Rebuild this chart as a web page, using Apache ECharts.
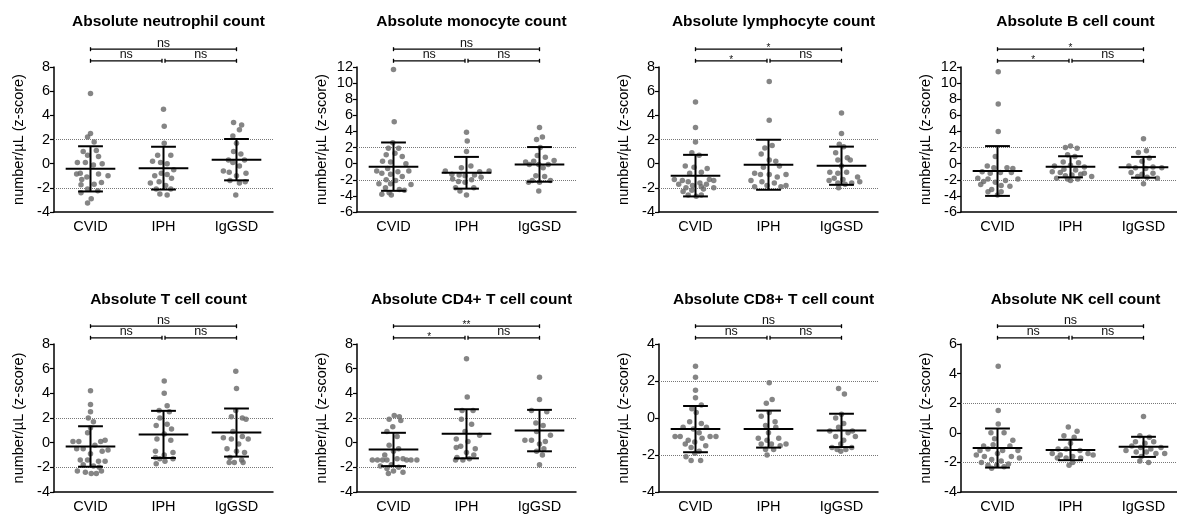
<!DOCTYPE html>
<html>
<head>
<meta charset="utf-8">
<script src="https://cdn.jsdelivr.net/npm/echarts@6/dist/echarts.min.js"></script>
<style>
html, body { margin: 0; padding: 0; background: #fff; }
#chart { width: 1177px; height: 514px; }
</style>
</head>
<body>
<div id="chart"></div>
<script>
const groups = ['CVID', 'IPH', 'IgGSD']
const titles = ['Absolute neutrophil count', 'Absolute monocyte count', 'Absolute lymphocyte count', 'Absolute B cell count',
  'Absolute T cell count', 'Absolute CD4+ T cell count', 'Absolute CD8+ T cell count', 'Absolute NK cell count']
const yMin = [-4, -6, -4, -6, -4, -4, -4, -4]
const yMax = [8, 12, 8, 12, 8, 8, 4, 6]

// mean and SD per group (CVID, IPH, IgGSD)
const means = [[-0.43, -0.37, 0.33], [-0.37, -1.13, -0.09], [-0.99, -0.09, -0.17], [-0.91, -0.39, -0.45],
  [-0.31, 0.67, 0.82], [-0.55, 0.72, 0.98], [-0.6, -0.6, -0.67], [-1.03, -1.16, -0.95]]
const sds = [[1.87, 1.77, 1.71], [3.0, 1.97, 2.15], [1.72, 2.07, 1.58], [3.09, 1.31, 1.29],
  [1.64, 1.91, 1.95], [1.35, 1.99, 1.68], [1.25, 1.0, 0.9], [1.32, 0.69, 0.68]]

// comparisons: [from, to, level]
const sigPairs = [[0, 1, 0], [1, 2, 0], [0, 2, 1]]
const sigLabels = [['ns', 'ns', 'ns'], ['ns', 'ns', 'ns'], ['*', 'ns', '*'], ['*', 'ns', '*'],
  ['ns', 'ns', 'ns'], ['*', 'ns', '**'], ['ns', 'ns', 'ns'], ['ns', 'ns', 'ns']]

// points per group as [x offset from group centre, z-score]
const neutrophil = [
  [[0, 5.8], [0, 2.5], [-0.04, 2.2], [0.05, 1.8], [-0.1, 1.0], [0.08, 1.1], [-0.04, 0.7], [0.11, 0.6], [-0.18, 0.1], [-0.07, 0.1],
    [0.16, 0.0], [0.04, -0.1], [-0.14, -0.8], [-0.19, -0.85], [0.11, -0.85], [0.24, -1.0], [-0.05, -1.1], [-0.12, -1.3], [0.15, -1.55],
    [0.05, -1.7], [-0.13, -1.75], [-0.04, -2.1], [0.1, -2.25], [-0.13, -2.4], [0.01, -2.9], [-0.04, -3.25]],
  [[0, 4.5], [0.01, 3.1], [0.01, 1.7], [-0.08, 0.7], [0.1, 0.7], [-0.15, 0.2], [-0.04, 0.1], [0.05, 0.0], [0.14, -0.5], [-0.03, -0.8],
    [0.05, -0.9], [-0.12, -1.0], [0.11, -1.2], [-0.06, -1.5], [-0.18, -1.6], [0.03, -1.8], [-0.1, -2.1], [0.1, -2.1], [-0.05, -2.5], [0.05, -2.6]],
  [[-0.04, 3.4], [0.07, 3.2], [0.04, 2.8], [-0.05, 2.3], [0, 1.7], [-0.04, 1.0], [0.06, 0.8], [-0.11, 0.3], [0.11, 0.3], [-0.05, 0.1],
    [0.04, -0.2], [-0.18, -0.6], [-0.1, -0.7], [0.13, -0.8], [0, -1.0], [-0.09, -1.4], [0.12, -1.5], [0.04, -1.6], [-0.01, -2.6]]
]
const monocyte = [
  [[0, 11.7], [0.01, 5.2], [-0.01, 2.6], [-0.07, 1.9], [0.07, 1.9], [0.02, 1.3], [-0.1, 1.1], [0.12, 0.9], [-0.15, 0.3], [-0.04, 0.2],
    [0.17, 0.0], [-0.08, -0.6], [-0.23, -0.9], [0.21, -0.9], [0.06, -1.0], [-0.16, -1.2], [-0.04, -1.3], [0.12, -1.6], [-0.1, -2.0],
    [0.03, -2.1], [-0.2, -2.5], [0.24, -2.6], [-0.04, -2.5], [-0.11, -3.0], [0.08, -3.2], [0.15, -3.3], [-0.06, -3.6], [-0.16, -3.8], [-0.03, -3.9]],
  [[0, 3.9], [0.01, 2.8], [0, 1.5], [0.06, -0.3], [-0.07, -0.5], [-0.29, -0.9], [0.18, -1.0], [0.31, -0.9], [-0.2, -1.3], [-0.1, -1.4],
    [-0.02, -1.5], [0.11, -1.4], [0.2, -1.7], [-0.19, -1.9], [0.07, -2.0], [-0.11, -2.2], [-0.02, -2.3], [-0.15, -3.0], [0.1, -3.0],
    [-0.09, -3.4], [0, -3.9]],
  [[0, 4.5], [0.04, 3.3], [-0.04, 3.0], [0.01, 2.0], [-0.03, 1.0], [0.08, 0.8], [-0.08, 0.3], [0.2, 0.4], [-0.19, 0.2], [-0.14, -0.1],
    [0.12, -0.1], [-0.01, -0.1], [0.05, -0.5], [-0.05, -1.5], [0.07, -1.6], [-0.1, -2.1], [0.15, -2.1], [-0.15, -2.3], [0, -2.3], [-0.01, -3.4]]
]
const lymphocyte = [
  [[0, 5.1], [0, 3.0], [0, 1.8], [-0.05, 0.9], [0.05, 0.7], [-0.14, -0.2], [-0.02, -0.3], [0.16, -0.4], [0.08, -0.7], [-0.08, -0.8],
    [-0.29, -1.3], [-0.18, -1.4], [-0.1, -1.5], [0.06, -1.6], [0.19, -1.3], [0.25, -1.4], [-0.23, -1.7], [-0.04, -1.8], [0.08, -1.9],
    [0.15, -1.7], [-0.13, -2.0], [0.25, -2.0], [0.11, -2.1], [-0.05, -2.2], [-0.17, -2.3], [-0.1, -2.6], [0.01, -2.7], [0.08, -2.6]],
  [[0.01, 6.8], [0.01, 3.6], [0.05, 1.5], [-0.05, 1.3], [-0.1, 0.8], [0.01, 0.3], [0.1, 0.2], [-0.07, -0.3], [0.15, -0.2], [-0.19, -0.8],
    [-0.11, -0.9], [0.01, -0.9], [0.12, -1.1], [0.24, -0.9], [-0.24, -1.4], [-0.09, -1.5], [0.08, -1.6], [-0.19, -1.9], [-0.02, -1.8],
    [0.17, -1.9], [0.24, -1.8]],
  [[0, 4.2], [0, 2.5], [-0.03, 1.6], [0.03, 1.4], [-0.08, 0.9], [0.08, 0.5], [-0.05, 0.3], [0.12, 0.3], [0, -0.2], [-0.16, -0.7],
    [-0.05, -0.8], [0.07, -0.7], [0.22, -1.1], [-0.1, -1.2], [0.02, -1.3], [-0.17, -1.4], [0.25, -1.5], [-0.05, -1.6], [0.14, -1.6],
    [0.05, -1.7], [-0.04, -2.0]]
]
const bCell = [
  [[0.01, 11.4], [0.01, 7.4], [0.01, 4.0], [-0.03, 0.9], [-0.14, -0.3], [0.13, -0.5], [0.21, -0.6], [-0.05, -0.5], [-0.21, -1.0],
    [0.04, -1.1], [-0.1, -1.2], [0.19, -1.1], [-0.27, -1.8], [0.28, -1.9], [-0.13, -1.9], [0.11, -2.1], [-0.19, -2.2], [-0.03, -2.3],
    [-0.23, -2.6], [0.05, -2.7], [0.17, -2.8], [-0.08, -3.2], [-0.13, -3.5], [0.05, -3.5], [0, -3.9]],
  [[0, 2.2], [-0.07, 2.0], [0.09, 1.9], [-0.04, 1.1], [0.06, 0.9], [-0.1, 0.2], [0.11, 0.1], [0, -0.2], [-0.22, -0.3], [0.19, -0.4],
    [-0.09, -0.7], [0.07, -0.8], [-0.25, -1.0], [-0.14, -1.1], [0.19, -1.2], [0.02, -1.4], [-0.07, -1.5], [0.14, -1.3], [0.29, -1.6],
    [-0.19, -1.8], [-0.04, -1.9], [0.1, -1.9], [0, -2.1]],
  [[0, 3.1], [0.04, 1.6], [-0.07, 1.4], [0.08, 0.7], [-0.02, 0.3], [-0.2, -0.3], [0.13, -0.4], [-0.11, -0.5], [0.03, -0.6], [0.25, -0.5],
    [-0.17, -1.1], [-0.02, -1.3], [0.13, -1.2], [-0.08, -1.6], [0.05, -1.7], [0.19, -1.8], [0, -2.5]]
]
const tCell = [
  [[0, 4.2], [0, 3.1], [0, 2.5], [-0.03, 2.0], [0.04, 1.7], [0, 1.2], [-0.04, 0.8], [-0.24, 0.1], [-0.16, 0.1], [0.14, 0.1], [0.2, 0.2],
    [0.06, -0.2], [-0.19, -0.5], [-0.1, -0.5], [0.24, -0.6], [0.16, -0.7], [0, -0.9], [-0.14, -1.4], [-0.04, -1.4], [0.11, -1.5],
    [0.2, -1.5], [-0.1, -1.8], [0.04, -1.9], [0.12, -2.0], [-0.18, -2.3], [-0.07, -2.4], [0.01, -2.5], [0.08, -2.5], [0.15, -2.3]],
  [[0.01, 5.0], [0.01, 4.0], [0.05, 3.0], [-0.06, 2.6], [0.08, 2.5], [-0.05, 2.0], [0.05, 1.5], [-0.1, 1.4], [0.11, 1.1], [0.01, 0.7],
    [-0.09, 0.3], [0.1, 0.2], [-0.11, -0.7], [0.13, -0.8], [0.01, -1.0], [-0.11, -1.2], [-0.05, -1.3], [0.13, -1.3], [0.02, -1.5], [-0.1, -1.7]],
  [[-0.01, 5.8], [0, 4.4], [-0.01, 2.6], [0.08, 2.0], [-0.07, 2.1], [0.13, 1.9], [-0.05, 0.9], [0.08, 0.5], [-0.18, 0.4], [-0.07, 0.3],
    [0.16, 0.3], [0.03, -0.1], [-0.13, -0.5], [0, -0.7], [0.11, -0.8], [-0.09, -1.2], [0.07, -1.4], [-0.03, -1.6], [0.09, -1.6], [-0.1, -1.6]]
]
const cd4 = [
  [[0.01, 2.2], [0.08, 2.1], [-0.06, 1.9], [0.1, 1.8], [-0.01, 1.3], [-0.09, 0.9], [0.05, 0.5], [-0.06, -0.2], [0.07, -0.5], [0, -0.7],
    [-0.12, -1.0], [0.05, -1.3], [-0.29, -1.4], [-0.22, -1.4], [-0.15, -1.4], [-0.09, -1.4], [0.18, -1.4], [0.24, -1.4], [0.32, -1.4],
    [0.13, -1.3], [-0.03, -1.8], [0.07, -2.0], [-0.09, -2.1], [0, -2.3], [0.13, -2.4], [-0.07, -2.5], [-0.18, -1.9]],
  [[0, 6.8], [0.01, 3.7], [-0.06, 2.6], [0.09, 2.6], [-0.07, 1.9], [0.07, 1.5], [-0.02, 0.9], [0.18, 0.6], [-0.14, 0.3], [0.02, 0.1],
    [-0.08, -0.3], [0.12, -0.5], [-0.14, -0.4], [0, -0.8], [0.1, -1.0], [-0.13, -1.2], [0.04, -1.3], [-0.05, -1.4], [-0.15, -1.4]],
  [[0, 5.3], [0, 3.5], [-0.11, 2.6], [0.1, 2.5], [-0.05, 1.6], [0.05, 1.4], [-0.04, 0.9], [0.15, 0.6], [-0.2, 0.2], [-0.11, 0.2],
    [0.08, 0.1], [0, -0.1], [0.06, -0.5], [-0.04, -0.7], [0.04, -1.0], [0, -1.8]]
]
const cd8 = [
  [[0, 2.8], [0, 2.2], [0, 1.5], [0, 1.1], [0.08, 0.7], [-0.05, 0.5], [0.01, 0.3], [-0.08, -0.2], [0.08, -0.3], [-0.17, -0.5],
    [0.15, -0.5], [-0.03, -0.6], [0.05, -0.8], [-0.28, -1.0], [-0.21, -1.0], [0.2, -1.0], [0.28, -1.0], [0.09, -1.1], [-0.1, -1.2],
    [-0.01, -1.3], [-0.14, -1.4], [0.14, -1.5], [-0.06, -1.6], [0.05, -1.8], [-0.01, -1.9], [-0.13, -2.1], [-0.06, -2.3], [0.07, -2.3]],
  [[0.01, 1.9], [0.05, 1.0], [-0.03, 0.8], [0.01, 0.3], [-0.1, 0.1], [0.09, -0.2], [-0.04, -0.4], [0.1, -0.5], [0, -0.8], [-0.14, -1.1],
    [-0.02, -1.2], [0.14, -1.1], [-0.1, -1.4], [0.04, -1.4], [0.24, -1.4], [0.16, -1.5], [-0.04, -1.7], [0.07, -1.7], [-0.02, -2.0]],
  [[-0.04, 1.6], [0.04, 1.3], [0, 0.2], [-0.08, 0.0], [0.03, -0.3], [-0.04, -0.5], [-0.16, -0.7], [0.09, -0.8], [0.15, -0.7], [-0.08, -1.0],
    [0.19, -1.0], [0.03, -1.2], [-0.01, -1.4], [-0.13, -1.6], [-0.06, -1.7], [0.06, -1.7], [-0.01, -1.8], [0.14, -1.6]]
]
const nkCell = [
  [[0.01, 4.5], [0.01, 1.5], [0.01, 0.6], [-0.09, 0.0], [0.09, 0.0], [0.21, -0.5], [-0.04, -0.4], [-0.19, -0.9], [-0.06, -0.8],
    [0.17, -0.9], [-0.24, -1.2], [-0.13, -1.1], [0.07, -1.2], [0.28, -1.2], [0, -1.4], [-0.29, -1.5], [-0.18, -1.6], [0.19, -1.6],
    [0.3, -1.7], [-0.08, -1.8], [0.05, -1.9], [-0.22, -2.0], [0.15, -2.1], [-0.13, -2.2], [-0.01, -2.2], [0.09, -2.3], [-0.08, -2.4]],
  [[-0.03, 0.4], [0.09, 0.1], [-0.09, -0.2], [0.05, -0.3], [0, -0.7], [-0.17, -1.1], [-0.06, -1.1], [0.13, -1.2], [-0.25, -1.4],
    [-0.14, -1.5], [0.24, -1.4], [0.03, -1.6], [0.31, -1.5], [-0.06, -1.7], [-0.18, -1.7], [0.14, -1.7], [0.03, -2.0], [-0.02, -2.2]],
  [[0, 1.1], [-0.05, -0.2], [0.08, -0.3], [-0.11, -0.6], [0.02, -0.7], [0.14, -0.6], [-0.16, -0.9], [-0.04, -1.0], [0.24, -1.0],
    [0.1, -1.1], [-0.24, -1.2], [-0.1, -1.3], [0.04, -1.3], [0.17, -1.4], [0.29, -1.4], [-0.03, -1.6], [-0.05, -1.9], [0.07, -2.0]]
]
const panels = [neutrophil, monocyte, lymphocyte, bCell, tCell, cd4, cd8, nkCell]

const gridLeft = [54, 357, 659, 961]
const gridWidth = 219
const rowTop = [67, 344]
const rowHeight = [145, 148]
const font = 'Liberation Sans, Arial, Helvetica, sans-serif'

let myChart = echarts.init(document.getElementById('chart'))

let grids = [], xAxes = [], yAxes = [], series = [], titleList = []

panels.forEach((panel, i) => {
  let col = i % 4, row = Math.floor(i / 4)
  grids.push({
    left: gridLeft[col], top: rowTop[row], width: gridWidth, height: rowHeight[row],
    containLabel: false, outerBoundsMode: 'none'
  })
  titleList.push({
    text: titles[i],
    left: gridLeft[col] + gridWidth / 2,
    top: row === 0 ? 9 : 287,
    textAlign: 'center',
    textStyle: { fontSize: 15.5, fontWeight: 'bold', color: '#000', fontFamily: font }
  })
  // visible category axis
  xAxes.push({
    type: 'category', gridIndex: i, data: groups, boundaryGap: true, position: 'bottom',
    axisLine: { onZero: false, lineStyle: { color: '#000', width: 1.5 } },
    axisTick: { alignWithLabel: true, length: 4, lineStyle: { color: '#000', width: 1.2 } },
    axisLabel: { fontSize: 14.5, color: '#000', margin: 7, fontFamily: font },
    splitLine: { show: false }
  })
  // hidden value axis for jittered points
  xAxes.push({ type: 'value', gridIndex: i, min: -0.5, max: 2.5, show: false, axisLine: { onZero: false } })
  yAxes.push({
    type: 'value', gridIndex: i, min: yMin[i], max: yMax[i], interval: 2, position: 'left',
    name: 'number/µL (z-score)', nameLocation: 'middle', nameGap: 28,
    nameTextStyle: { fontSize: 14.5, color: '#000', fontFamily: font },
    axisLine: { show: true, onZero: false, lineStyle: { color: '#000', width: 1.5 } },
    axisTick: { show: true, length: 4, lineStyle: { color: '#000', width: 1.2 } },
    axisLabel: { fontSize: 14.5, color: '#000', margin: 4, fontFamily: font },
    splitLine: { show: false }
  })

  let pts = []
  panel.forEach((grp, g) => grp.forEach(p => pts.push([g + p[0], p[1]])))
  series.push({
    type: 'scatter', xAxisIndex: 2 * i + 1, yAxisIndex: i,
    data: pts, symbolSize: 5.5,
    itemStyle: { color: '#666' },
    silent: true,
    markLine: {
      silent: true, symbol: 'none', label: { show: false },
      lineStyle: { color: '#777', type: 'dotted', width: 1 },
      data: [{ yAxis: 2 }, { yAxis: -2 }]
    }
  })

  // mean +/- SD
  series.push({
    type: 'custom', xAxisIndex: 2 * i + 1, yAxisIndex: i, z: 5, silent: true,
    data: groups.map((_, g) => [g, means[i][g], sds[i][g]]),
    renderItem: (params, api) => {
      let g = api.value(0), m = api.value(1), sd = api.value(2)
      let mL = api.coord([g - 0.34, m]), mR = api.coord([g + 0.34, m])
      let hi = api.coord([g, m + sd]), lo = api.coord([g, m - sd])
      let cL = api.coord([g - 0.17, m]), cR = api.coord([g + 0.17, m])
      let st = { stroke: '#000', lineWidth: 2 }
      return {
        type: 'group',
        children: [
          { type: 'line', shape: { x1: mL[0], y1: mL[1], x2: mR[0], y2: mR[1] }, style: st },
          { type: 'line', shape: { x1: hi[0], y1: hi[1], x2: lo[0], y2: lo[1] }, style: st },
          { type: 'line', shape: { x1: cL[0], y1: hi[1], x2: cR[0], y2: hi[1] }, style: st },
          { type: 'line', shape: { x1: cL[0], y1: lo[1], x2: cR[0], y2: lo[1] }, style: st }
        ]
      }
    }
  })

  // significance brackets above the plot
  let labels = sigLabels[i]
  series.push({
    type: 'custom', xAxisIndex: 2 * i + 1, yAxisIndex: i, z: 5, silent: true, clip: false,
    data: sigPairs,
    renderItem: (params, api) => {
      let a = api.value(0), b = api.value(1), level = api.value(2)
      let top = params.coordSys.y
      let y = top - (level === 0 ? 6.2 : 17.8)
      let x1 = api.coord([a, 0])[0], x2 = api.coord([b, 0])[0]
      if (level === 0 && a === 1) x1 += 1.5
      if (level === 0 && b === 1) x2 -= 1.5
      let txt = labels[params.dataIndex]
      let star = txt.indexOf('*') >= 0
      let st = { stroke: '#000', lineWidth: 1.3 }
      return {
        type: 'group',
        children: [
          { type: 'line', shape: { x1: x1, y1: y, x2: x2, y2: y }, style: st },
          { type: 'line', shape: { x1: x1, y1: y - 2, x2: x1, y2: y + 2 }, style: st },
          { type: 'line', shape: { x1: x2, y1: y - 2, x2: x2, y2: y + 2 }, style: st },
          {
            type: 'text',
            x: (x1 + x2) / 2, y: star ? y - 1 : y - 6,
            style: {
              text: txt, fill: '#111', align: 'center', verticalAlign: 'middle',
              fontSize: star ? 10 : 12.5, fontFamily: font
            }
          }
        ]
      }
    }
  })
})

let options = {
  animation: false,
  backgroundColor: '#fff',
  title: titleList,
  grid: grids,
  xAxis: xAxes,
  yAxis: yAxes,
  series: series
}
myChart.setOption(options)
</script>
</body>
</html>
